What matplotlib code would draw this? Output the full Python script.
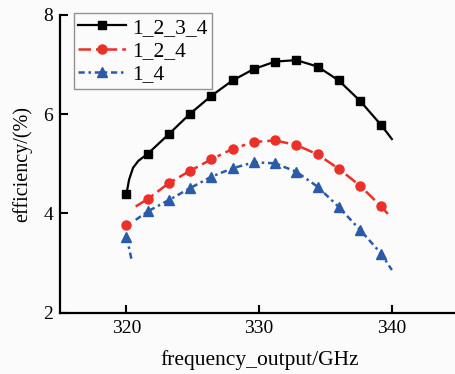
import numpy as np
import matplotlib.pyplot as plt

plt.rcParams['font.family'] = ['Liberation Serif', 'DejaVu Serif']

# marker points (every 1.6 GHz)
freq_marks = [320, 321.6, 323.2, 324.8, 326.4, 328.0, 329.6, 331.2,
              332.8, 334.4, 336.0, 337.6, 339.2]
eff_1234 = [4.39, 5.20, 5.60, 6.01, 6.37, 6.68, 6.91, 7.06,
            7.09, 6.96, 6.68, 6.27, 5.78]
eff_124 = [3.76, 4.29, 4.61, 4.86, 5.09, 5.30, 5.44, 5.47,
           5.38, 5.19, 4.90, 4.56, 4.14]
eff_14 = [3.53, 4.04, 4.27, 4.51, 4.74, 4.91, 5.03, 5.01,
          4.84, 4.54, 4.13, 3.67, 3.19]

# curve traces (markers plus the extra bends)
line_x_1234 = [320, 320.2, 320.5, 320.9] + freq_marks[1:] + [340]
line_y_1234 = [4.39, 4.68, 4.92, 5.06] + eff_1234[1:] + [5.50]
line_x_124 = [320.7] + freq_marks[1:] + [339.7]
line_y_124 = [4.14] + eff_124[1:] + [3.99]
line_x_14 = [320, 320.2, 320.4, np.nan, 320.7] + freq_marks[1:] + [340]
line_y_14 = [3.53, 3.30, 3.05, np.nan, 3.87] + eff_14[1:] + [2.86]

red = '#ec2f27'
blue = '#2b5ba8'

fig = plt.figure(figsize=(4.55, 3.74), dpi=100, facecolor='#fbfbfb')
ax = fig.add_axes([0.132, 0.164, 0.875, 0.796])
ax.set_facecolor('#fbfbfb')

ax.plot(line_x_1234, line_y_1234, color='black', lw=1.6)
ax.plot(line_x_124, line_y_124, color=red, lw=1.8, dashes=(5, 2, 1.5, 2))
ax.plot(line_x_14, line_y_14, color=blue, lw=1.8, dashes=(2.5, 1.5, 1, 1.5))

ax.plot(freq_marks, eff_1234, ls='none', marker='s', ms=6, color='black')
ax.plot(freq_marks, eff_124, ls='none', marker='o', ms=6.5, color=red)
ax.plot(freq_marks, eff_14, ls='none', marker='^', ms=7, color=blue)

# legend proxies
h1, = ax.plot([], [], color='black', lw=1.6, marker='s', ms=6)
h2, = ax.plot([], [], color=red, lw=1.8, dashes=(5, 2, 1.5, 2), marker='o', ms=6.5)
h3, = ax.plot([], [], color=blue, lw=1.8, dashes=(2.5, 1.5, 1, 1.5), marker='^', ms=7)
leg = ax.legend([h1, h2, h3], ['1_2_3_4', '1_2_4', '1_4'], loc='upper left',
                bbox_to_anchor=(0.035, 1.005), fontsize=15.5, frameon=True,
                fancybox=False, edgecolor='#777777', handlelength=2.2,
                handletextpad=0.3, borderpad=0.2, labelspacing=0.15,
                borderaxespad=0)
leg.get_frame().set_linewidth(1.0)
leg.get_frame().set_facecolor('#fbfbfb')

ax.set_xlim(315, 345)
ax.set_ylim(2, 8)
ax.set_xticks([320, 330, 340])
ax.set_yticks([2, 4, 6, 8])
ax.spines['top'].set_visible(False)
ax.spines['right'].set_visible(False)
ax.spines['left'].set_linewidth(1.6)
ax.spines['bottom'].set_linewidth(1.6)
ax.tick_params(direction='in', length=6, width=1.5, labelsize=14, pad=5)

ax.set_xlabel('frequency_output/GHz', fontsize=15.5, labelpad=10)
ax.set_ylabel('efficiency/(%)', fontsize=14.5, labelpad=8)

fig.savefig('out.png', dpi=100, facecolor=fig.get_facecolor())
